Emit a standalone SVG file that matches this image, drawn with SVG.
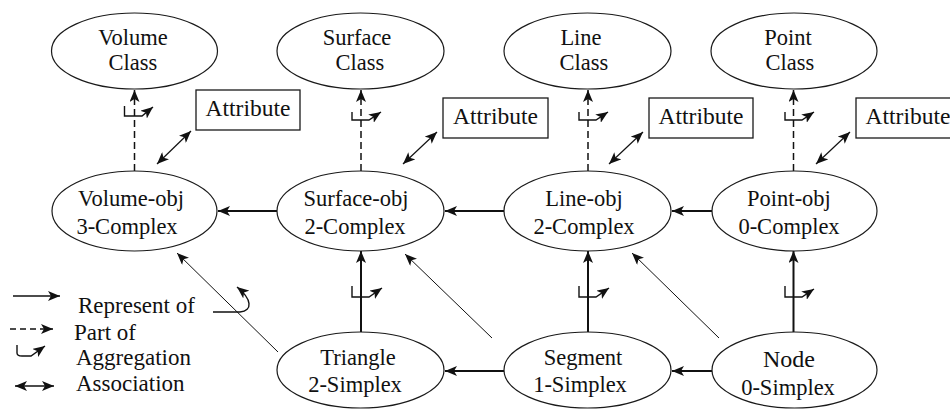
<svg xmlns="http://www.w3.org/2000/svg" width="950" height="410" viewBox="0 0 950 410">
<style>
  .bg { fill: #ffffff; }
  .node ellipse { fill: #ffffff; stroke: #1a1a1a; stroke-width: 1.2; }
  .attr rect { fill: #ffffff; stroke: #1a1a1a; stroke-width: 1.3; }
  text { font-family: "Liberation Serif", "DejaVu Serif", serif; fill: #111111; }
  .nt { font-size: 22.5px; text-anchor: middle; }
  .at { font-size: 23.5px; text-anchor: middle; }
  .lg { font-size: 23px; }
  .rep { fill: none; stroke: #111111; stroke-width: 2; marker-end: url(#ah); }
  .diag { fill: none; stroke: #111111; stroke-width: 1; marker-end: url(#ah); }
  .part { fill: none; stroke: #111111; stroke-width: 1.5; stroke-dasharray: 7 4; marker-end: url(#ah); }
  .agg { fill: none; stroke: #111111; stroke-width: 1.4; marker-end: url(#ah); }
  .assoc { fill: none; stroke: #111111; stroke-width: 1.2; marker-start: url(#ahs); marker-end: url(#ah); }
</style>
<defs>
  <marker id="ah" markerUnits="userSpaceOnUse" markerWidth="12" markerHeight="10" viewBox="0 0 12 10" refX="12" refY="5" orient="auto">
    <path d="M0,0 L12,5 L0,10 L3,5 z" fill="#111111"/>
  </marker>
  <marker id="ahs" markerUnits="userSpaceOnUse" markerWidth="12" markerHeight="10" viewBox="0 0 12 10" refX="12" refY="5" orient="auto-start-reverse">
    <path d="M0,0 L12,5 L0,10 L3,5 z" fill="#111111"/>
  </marker>
</defs>
<rect class="bg" x="0" y="0" width="950" height="410"/>

<g id="connectors">
  <path class="part" d="M134.5,171 V90"/>
  <path class="part" d="M361,171 V90"/>
  <path class="part" d="M588,171 V90"/>
  <path class="part" d="M793.5,171 V90"/>
  <path class="agg" d="M124.5,106 V116 H142 L153,107"/>
  <path class="agg" d="M352,112 V120 H369 L381,112"/>
  <path class="agg" d="M579,112 V120 H596 L608,112"/>
  <path class="agg" d="M785,112 V120 H802 L814,112"/>
  <path class="rep" d="M277,211 H218"/>
  <path class="rep" d="M504,211 H445"/>
  <path class="rep" d="M712,211 H672"/>
  <path class="rep" d="M504,371 H445"/>
  <path class="rep" d="M712,371 H672"/>
  <path class="rep" d="M361,332 V251"/>
  <path class="rep" d="M588,332 V251"/>
  <path class="rep" d="M793.5,332 V251"/>
  <path class="agg" d="M352,286 V297 H369 L382,288"/>
  <path class="agg" d="M579,286 V297 H596 L609,288"/>
  <path class="agg" d="M785,286 V297 H802 L814,289"/>
  <path class="diag" d="M278,352 L177,253"/>
  <path class="diag" d="M492,338 L405,254"/>
  <path class="diag" d="M719,338 L632,253"/>
  <path class="agg" d="M213,312 H240 C253,311 252,299 237,287"/>
  <path class="assoc" d="M157,164 L191,131"/>
  <path class="assoc" d="M403,164 L437,132"/>
  <path class="assoc" d="M609,164 L643,132"/>
  <path class="assoc" d="M816,164 L850,132"/>
</g>

<g id="volume-class" class="node">
  <ellipse cx="134.5" cy="51" rx="83" ry="38"/>
  <text class="nt" x="133" y="45">Volume</text>
  <text class="nt" x="133" y="70">Class</text>
</g>
<g id="surface-class" class="node">
  <ellipse cx="360.5" cy="51" rx="83.5" ry="38"/>
  <text class="nt" x="357" y="45">Surface</text>
  <text class="nt" x="360" y="70">Class</text>
</g>
<g id="line-class" class="node">
  <ellipse cx="587.5" cy="51" rx="83.5" ry="38"/>
  <text class="nt" x="581" y="45">Line</text>
  <text class="nt" x="584" y="70">Class</text>
</g>
<g id="point-class" class="node">
  <ellipse cx="794" cy="51" rx="83" ry="38"/>
  <text class="nt" x="788" y="45">Point</text>
  <text class="nt" x="790" y="70">Class</text>
</g>

<g id="volume-obj" class="node">
  <ellipse cx="134.5" cy="211" rx="82.5" ry="40"/>
  <text class="nt" x="131" y="206">Volume-obj</text>
  <text class="nt" x="127" y="234">3-Complex</text>
</g>
<g id="surface-obj" class="node">
  <ellipse cx="360.5" cy="211" rx="83.5" ry="40"/>
  <text class="nt" x="356" y="206">Surface-obj</text>
  <text class="nt" x="355" y="234">2-Complex</text>
</g>
<g id="line-obj" class="node">
  <ellipse cx="587.5" cy="211" rx="83.5" ry="40"/>
  <text class="nt" x="584" y="206">Line-obj</text>
  <text class="nt" x="584" y="234">2-Complex</text>
</g>
<g id="point-obj" class="node">
  <ellipse cx="794.5" cy="211" rx="82.5" ry="40"/>
  <text class="nt" x="789" y="206">Point-obj</text>
  <text class="nt" x="789" y="234">0-Complex</text>
</g>

<g id="triangle" class="node">
  <ellipse cx="360.5" cy="370" rx="83.5" ry="38"/>
  <text class="nt" x="358" y="365">Triangle</text>
  <text class="nt" x="355" y="392">2-Simplex</text>
</g>
<g id="segment" class="node">
  <ellipse cx="587.5" cy="370" rx="83.5" ry="38"/>
  <text class="nt" x="583" y="365">Segment</text>
  <text class="nt" x="580" y="392">1-Simplex</text>
</g>
<g id="node" class="node">
  <ellipse cx="794.5" cy="370" rx="82.5" ry="38"/>
  <text class="nt" x="789" y="367" style="font-size:24px">Node</text>
  <text class="nt" x="788" y="395">0-Simplex</text>
</g>

<g id="attr-volume" class="attr">
  <rect x="196" y="90" width="104" height="40"/>
  <text class="at" x="248" y="116">Attribute</text>
</g>
<g id="attr-surface" class="attr">
  <rect x="443" y="98" width="105" height="40"/>
  <text class="at" x="495.5" y="124">Attribute</text>
</g>
<g id="attr-line" class="attr">
  <rect x="649" y="98" width="104" height="40"/>
  <text class="at" x="701" y="124">Attribute</text>
</g>
<g id="attr-point" class="attr">
  <rect x="856" y="98" width="104" height="40"/>
  <text class="at" x="908" y="124">Attribute</text>
</g>

<g id="legend">
  <path class="rep" d="M13,296 H60" style="stroke-width:1.6"/>
  <path class="part" d="M10,329 H53" style="stroke-dasharray:6 4"/>
  <path class="agg" d="M17,345 V353 Q17,356 22,356 H31 L45,346"/>
  <path class="assoc" d="M15,386 H54" style="stroke-width:1.6"/>
  <text class="lg" x="78" y="313">Represent of</text>
  <text class="lg" x="74" y="340">Part of</text>
  <text class="lg" x="76" y="365">Aggregation</text>
  <text class="lg" x="76" y="391">Association</text>
</g>
</svg>
